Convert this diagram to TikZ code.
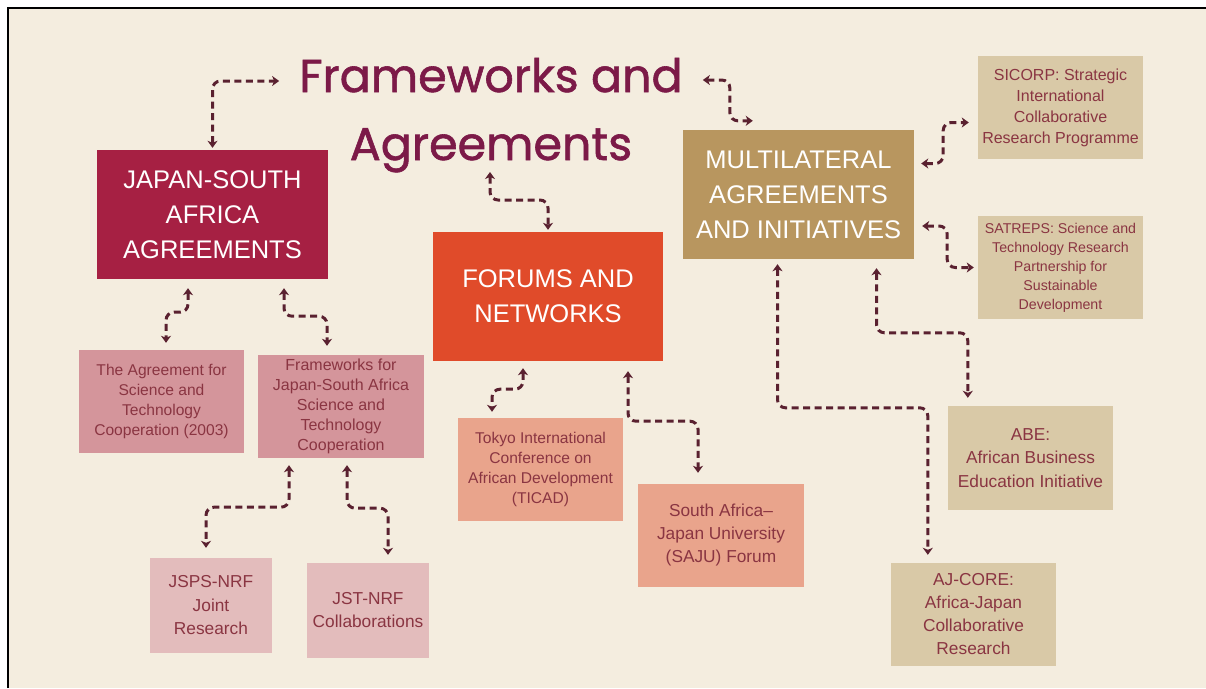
\documentclass[tikz,border=0pt]{standalone}
\usepackage{fontspec}
\setmainfont{Liberation Sans}
\newfontfamily\titlefont[FakeBold=1.3]{Poppins}
\usetikzlibrary{arrows.meta,calc}

\definecolor{cream}{HTML}{F4EDDF}
\definecolor{titlec}{HTML}{7C1A48}
\definecolor{crimson}{HTML}{A62043}
\definecolor{vermil}{HTML}{E04B2A}
\definecolor{ochre}{HTML}{B8965F}
\definecolor{sand}{HTML}{D9C9A7}
\definecolor{rosedust}{HTML}{D4959B}
\definecolor{rosepale}{HTML}{E3BCBC}
\definecolor{salmon}{HTML}{E9A48C}
\definecolor{boxtext}{HTML}{8A3542}
\definecolor{linkc}{HTML}{5A2130}

\begin{document}
\begin{tikzpicture}[x=1pt,y=-1pt,
  bigbox/.style={rectangle, inner sep=0pt, text=white, align=center,
    font=\fontsize{25.5}{35}\selectfont, minimum width=231pt, minimum height=129pt},
  smallbox/.style={rectangle, inner sep=0pt, text=boxtext, align=center,
    minimum width=165pt, minimum height=103pt},
  titletext/.style={inner sep=0pt, text=titlec, font=\titlefont\fontsize{46}{60}\selectfont},
  link/.style={draw=linkc, line width=3pt, dash pattern=on 7pt off 4.5pt,
    rounded corners=8pt,
    {Stealth[length=7pt,width=10pt,inset=2pt]}-{Stealth[length=7pt,width=10pt,inset=2pt]}}
]
\useasboundingbox (0,0) rectangle (1206,688);
\fill[white] (0,0) rectangle (1206,688);
\fill[cream] (9,9) rectangle (1206,688);
\draw[black, line width=2.4pt] (8,688) -- (8,8) -- (1206,8);

% title
\node[titletext, anchor=base] (t1) at (491,92) {Frameworks and};
\node[titletext, anchor=base] (t2) at (491,160) {Agreements};

% main groups
\node[bigbox, fill=crimson] (jsa) at (212.5,214.5) {JAPAN-SOUTH\\AFRICA\\AGREEMENTS};
\node[bigbox, fill=vermil, minimum width=230pt] (forums) at (548,296.5) {FORUMS AND\\NETWORKS};
\node[bigbox, fill=ochre] (multi) at (798.5,194.5) {MULTILATERAL\\AGREEMENTS\\AND INITIATIVES};

% multilateral items
\node[smallbox, fill=sand, font=\fontsize{16}{21}\selectfont] (sicorp) at (1060.5,107.5)
  {SICORP: Strategic\\International\\Collaborative\\Research Programme};
\node[smallbox, fill=sand, font=\fontsize{14.2}{19}\selectfont] (satreps) at (1060.5,267.5)
  {SATREPS: Science and\\Technology Research\\Partnership for\\Sustainable\\Development};
\node[smallbox, fill=sand, minimum height=104pt, font=\fontsize{17.3}{23.5}\selectfont] (abe) at (1030.5,458)
  {ABE:\\African Business\\Education Initiative};
\node[smallbox, fill=sand, font=\fontsize{17.3}{23}\selectfont] (aj) at (973.5,614.5)
  {AJ-CORE:\\Africa-Japan\\Collaborative\\Research};

% bilateral items
\node[smallbox, fill=rosedust, font=\fontsize{15.6}{20}\selectfont] (agr) at (161.5,401.5)
  {The Agreement for\\Science and\\Technology\\Cooperation (2003)};
\node[smallbox, fill=rosedust, minimum width=166pt, font=\fontsize{16}{20}\selectfont] (frm) at (341,406.5)
  {Frameworks for\\Japan-South Africa\\Science and\\Technology\\Cooperation};
\node[smallbox, fill=rosepale, minimum width=122pt, minimum height=95pt, font=\fontsize{17.3}{23.5}\selectfont] (jsps) at (211,605.5)
  {JSPS-NRF\\Joint\\Research};
\node[smallbox, fill=rosepale, minimum width=122pt, minimum height=95pt, font=\fontsize{17.3}{23}\selectfont] (jst) at (368,610.5)
  {JST-NRF\\Collaborations};

% forums items
\node[smallbox, fill=salmon, font=\fontsize{15.6}{20.3}\selectfont] (ticad) at (540.5,469.5)
  {Tokyo International\\Conference on\\African Development\\(TICAD)};
\node[smallbox, fill=salmon, minimum width=166pt, font=\fontsize{17.3}{23}\selectfont] (saju) at (721,535.5)
  {South Africa–\\Japan University\\(SAJU) Forum};

% connectors: title
\draw[link] ([yshift=2pt]jsa.north) |- ([xshift=-20pt,yshift=11pt]t1.base west);
\draw[link] ([xshift=-1pt,yshift=-12pt]t2.base) -- ++(0,28) -| ([yshift=2pt]forums.north);
\draw[link] ([xshift=20pt,yshift=12pt]t1.base east) -- ++(27,0) |- ([xshift=70pt,yshift=9pt]multi.north west);

% connectors: multilateral
\draw[link] ([xshift=7pt,yshift=31pt]multi.east) -- ++(22,0) |- ([xshift=-9pt,yshift=-15pt]sicorp.west);
\draw[link] ([xshift=8pt,yshift=-31.5pt]multi.east) -- ++(25,0) |- ([xshift=-4pt]satreps.west);
\draw[link] ([xshift=78pt,yshift=-9pt]multi.south) |- ([xshift=20pt,yshift=73pt]abe.north west) -- ([xshift=20pt,yshift=8pt]abe.north west);
\draw[link] ([xshift=-21pt,yshift=-5pt]multi.south) |- ([xshift=37pt,yshift=155pt]aj.north west) -- ([xshift=37pt,yshift=8pt]aj.north west);

% connectors: bilateral
\draw[link] ([xshift=-24.5pt,yshift=-9pt]jsa.south) -- ++(0,24) -| ([xshift=4.5pt,yshift=7pt]agr.north);
\draw[link] ([xshift=71.5pt,yshift=-9pt]jsa.south) -- ++(0,28) -| ([xshift=-14pt,yshift=9pt]frm.north);
\draw[link] ([xshift=-52pt,yshift=-7pt]frm.south) -- ++(0,42) -| ([xshift=-5pt,yshift=10pt]jsps.north);
\draw[link] ([xshift=6pt,yshift=-7pt]frm.south) -- ++(0,43) -| ([xshift=20pt,yshift=8pt]jst.north);

% connectors: forums
\draw[link] ([xshift=-25pt,yshift=-7pt]forums.south) -- ++(0,21) -| ([xshift=-48.5pt,yshift=6pt]ticad.north);
\draw[link] ([xshift=80pt,yshift=-10pt]forums.south) -- ++(0,50) -| ([xshift=-23pt,yshift=11pt]saju.north);
\end{tikzpicture}
\end{document}
